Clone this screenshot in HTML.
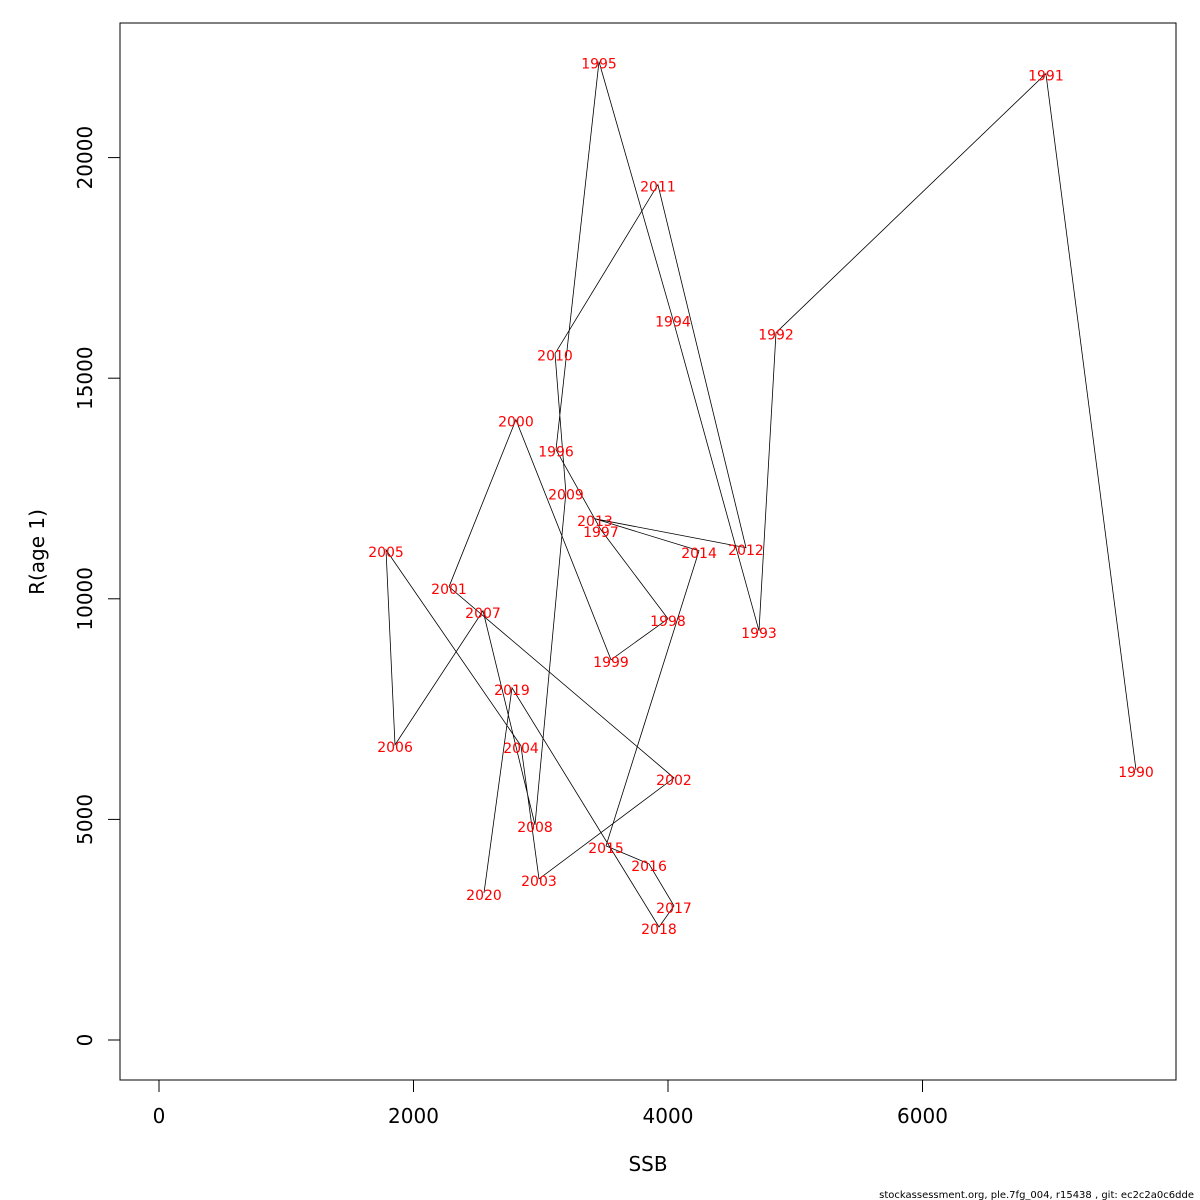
<!DOCTYPE html>
<html><head><meta charset="utf-8">
<style>
html,body{margin:0;padding:0;background:#fff;}
svg{display:block;font-family:"DejaVu Sans","Liberation Sans",sans-serif;}
</style></head>
<body>
<svg id="chart" width="1200" height="1200" xmlns="http://www.w3.org/2000/svg">
<rect x="0" y="0" width="1200" height="1200" fill="#fff"/>
<rect x="120" y="23" width="1056" height="1057" fill="none" stroke="#000" stroke-width="1"/>
<g id="xaxis"></g>
<g id="yaxis"></g>
<g id="series"></g>
<text x="648" y="1171" font-size="20" text-anchor="middle">SSB</text>
<text transform="translate(44,552) rotate(-90)" font-size="20" text-anchor="middle">R(age 1)</text>
<text x="1194" y="1198" font-size="10" text-anchor="end">stockassessment.org, ple.7fg_004, r15438 , git: ec2c2a0c6dde</text>
</svg>
<script>
const years = [1990,1991,1992,1993,1994,1995,1996,1997,1998,1999,2000,2001,2002,2003,2004,2005,2006,2007,2008,2009,2010,2011,2012,2013,2014,2015,2016,2017,2018,2019,2020];
const ssb = [7678,6970,4849,4715,4039,3458,3120,3473,4000,3552,2805,2279,4047,2986,2845,1784,1855,2546,2955,3198,3112,3921,4613,3426,4244,3513,3851,4047,3929,2774,2554];
const rec = [6122,21905,16032,9274,16327,22177,13379,11565,9546,8617,14059,10272,5941,3651,6667,11111,6689,9728,4875,12404,15556,19388,11156,11814,11088,4399,3991,3039,2562,7982,3333];
const xTicks = [0,2000,4000,6000];
const yTicks = [0,5000,10000,15000,20000];
const NS = "http://www.w3.org/2000/svg";
function sx(v){ return 159 + v*0.12725; }
function sy(v){ return 1040 - v*0.04412; }
function mk(tag, attrs, parent){ const e=document.createElementNS(NS,tag); for(const k in attrs) e.setAttribute(k,attrs[k]); parent.appendChild(e); return e; }
const xa=document.getElementById('xaxis'), ya=document.getElementById('yaxis'), sg=document.getElementById('series');
mk('line',{x1:sx(xTicks[0]),x2:sx(xTicks[xTicks.length-1]),y1:1080,y2:1080,stroke:'#000'},xa);
xTicks.forEach(t=>{
  const l=mk('line',{x1:sx(t),x2:sx(t),y1:1080,y2:1092,stroke:'#000'},xa);
  
  
  const tx=mk('text',{x:sx(t),y:1123,'font-size':20,'text-anchor':'middle'},xa);
  tx.textContent=t;
  
  
});
mk('line',{x1:120,x2:120,y1:sy(yTicks[0]),y2:sy(yTicks[yTicks.length-1]),stroke:'#000'},ya);
yTicks.forEach(t=>{
  const l=mk('line',{x1:108,x2:120,y1:sy(t),y2:sy(t),stroke:'#000'},ya);
  
  
  const tx=mk('text',{transform:`translate(92,${sy(t)}) rotate(-90)`,'font-size':20,'text-anchor':'middle'},ya);
  tx.textContent=t;
  
  
});
const pts=ssb.map((v,i)=>sx(v).toFixed(1)+','+sy(rec[i]).toFixed(1)).join(' ');
const pl=mk('polyline',{points:pts,fill:'none',stroke:'#000','stroke-width':0.8},sg);


years.forEach((y,i)=>{
  const t=mk('text',{x:sx(ssb[i]),y:sy(rec[i])+7,'font-size':14,fill:'#ff0000','text-anchor':'middle'},sg);
  t.textContent=y;
  
  
});
</script>
</body></html>
